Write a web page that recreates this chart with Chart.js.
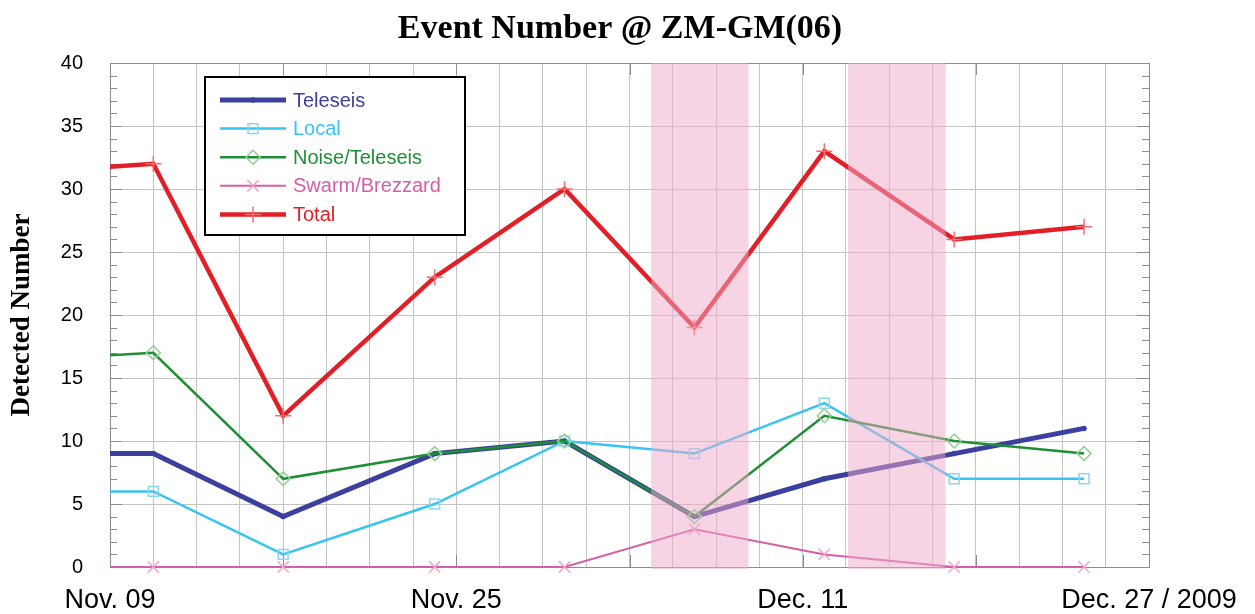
<!DOCTYPE html>
<html>
<head>
<meta charset="utf-8">
<script src="https://cdn.jsdelivr.net/npm/chart.js@4.4.1/dist/chart.umd.min.js"></script>
<style>
  html, body { margin: 0; padding: 0; background: #fff; }
</style>
</head>
<body>
<canvas id="grafico" width="1255" height="614"></canvas>
<script>
// days counted from Nov. 09, 2009 (the first point sits just left of the frame)
const dias = [-4, 2, 8, 15, 21, 27, 33, 39, 45];
const teleseis = [9, 9, 4, 9, 10, 4, 7, 9, 11];
const local = [6, 6, 1, 5, 10, 9, 13, 7, 7];
const noise = [16.4, 17, 7, 9, 10, 4, 12, 10, 9];
const swarm = [0, 0, 0, 0, 0, 3, 1, 0, 0];
const total = [31.3, 32, 12, 23, 30, 19, 33, 26, 27];

const xTickDias = [0, 16, 32, 48];
const xTickLabels = ['Nov. 09', 'Nov. 25', 'Dec. 11', 'Dec. 27 / 2009'];
// shaded periods, in days from Nov. 09
const faixas = [[25, 29.5], [34.1, 38.6]];

function pontos(valores) {
    return valores.map((v, i) => ({ x: dias[i], y: v }));
}

function serie(label, valores, cor, largura, estilo, raio, corPonto, ordem) {
    return {
        label: label,
        data: pontos(valores),
        borderColor: cor,
        borderWidth: largura,
        pointStyle: estilo,
        pointRadius: raio,
        pointBorderColor: corPonto,
        pointBackgroundColor: estilo === 'circle' ? cor : 'rgba(0,0,0,0)',
        pointBorderWidth: 1.5,
        tension: 0,
        order: ordem,
        clip: { left: 0, right: 0, top: 6, bottom: 6 }
    };
}

const decoracao = {
    id: 'decoracao',
    beforeDatasetsDraw(chart) {
        const { ctx, chartArea: a, scales: { x, y } } = chart;
        ctx.save();
        ctx.strokeStyle = '#8c8c8c';
        ctx.lineWidth = 1;
        ctx.strokeRect(a.left + 0.5, a.top + 0.5, a.right - a.left, a.bottom - a.top);
        ctx.beginPath();
        for (let v = 0; v <= 40; v++) {
            const py = Math.round(y.getPixelForValue(v)) + 0.5;
            const len = v % 5 === 0 ? 12 : 7;
            ctx.moveTo(a.left, py); ctx.lineTo(a.left + len, py);
            ctx.moveTo(a.right, py); ctx.lineTo(a.right - len, py);
        }
        for (let d = 0; d <= 48; d += 8) {
            const px = Math.round(x.getPixelForValue(d)) + 0.5;
            ctx.moveTo(px, a.top); ctx.lineTo(px, a.top + 12);
            ctx.moveTo(px, a.bottom); ctx.lineTo(px, a.bottom - 12);
        }
        ctx.stroke();
        ctx.restore();
    },
    afterDatasetsDraw(chart) {
        const { ctx, chartArea: a, scales: { x } } = chart;
        ctx.save();
        ctx.fillStyle = 'rgba(239,169,199,0.5)';
        faixas.forEach(f => {
            const x0 = x.getPixelForValue(f[0]);
            const x1 = x.getPixelForValue(f[1]);
            ctx.fillRect(x0, a.top, x1 - x0, a.bottom - a.top + 2);
        });
        ctx.restore();
    },
    afterDraw(chart) {
        const { ctx, chartArea: a } = chart;
        ctx.save();
        // title
        ctx.fillStyle = '#000';
        ctx.font = 'bold 34px "Liberation Serif", "Times New Roman", serif';
        ctx.textAlign = 'center';
        ctx.textBaseline = 'middle';
        ctx.fillText('Event Number @ ZM-GM(06)', 620, 29);

        // legend
        const bx = a.left + 95, by = a.top + 14, bw = 260, bh = 158;
        ctx.fillStyle = '#fff';
        ctx.fillRect(bx, by, bw, bh);
        ctx.strokeStyle = '#000';
        ctx.lineWidth = 2;
        ctx.strokeRect(bx, by, bw, bh);
        ctx.font = '20px "Liberation Sans", Arial, sans-serif';
        ctx.textAlign = 'left';
        ctx.textBaseline = 'middle';
        const ordemLegenda = ['Teleseis', 'Local', 'Noise/Teleseis', 'Swarm/Brezzard', 'Total'];
        ordemLegenda.forEach((nome, i) => {
            const ds = chart.data.datasets.find(d => d.label === nome);
            const ly = by + 23 + i * 28.6;
            ctx.strokeStyle = ds.borderColor;
            ctx.lineWidth = ds.borderWidth;
            ctx.beginPath();
            ctx.moveTo(bx + 15, ly);
            ctx.lineTo(bx + 81, ly);
            ctx.stroke();
            ctx.strokeStyle = ds.pointBorderColor;
            ctx.fillStyle = ds.pointBackgroundColor;
            ctx.lineWidth = ds.pointBorderWidth;
            Chart.helpers.drawPoint(ctx, { pointStyle: ds.pointStyle, radius: ds.pointRadius, rotation: 0, borderWidth: ds.pointBorderWidth }, bx + 48, ly);
            ctx.fillStyle = ds.borderColor;
            ctx.fillText(nome, bx + 88, ly + 1);
        });
        ctx.restore();
    }
};

const ctx = document.getElementById('grafico').getContext('2d');

new Chart(ctx, {
    type: 'line',
    data: {
        datasets: [
            serie('Teleseis', teleseis, '#3b3f9e', 5, 'circle', 2, '#3b3f9e', 4),
            serie('Local', local, '#38c4f2', 2.5, 'rect', 7, '#8ad6f5', 3),
            serie('Noise/Teleseis', noise, '#1f8f35', 2.5, 'rectRot', 7, '#8fd08f', 2),
            serie('Swarm/Brezzard', swarm, '#d45fa6', 2, 'crossRot', 8, '#f0a3cc', 5),
            serie('Total', total, '#e41e26', 4.5, 'cross', 8, '#f07070', 1)
        ]
    },
    options: {
        responsive: false,
        devicePixelRatio: 1,
        animation: false,
        layout: {
            padding: { left: 0, right: 106, top: 63, bottom: 0 }
        },
        plugins: {
            legend: { display: false },
            title: { display: false },
            tooltip: { enabled: false }
        },
        scales: {
            x: {
                type: 'linear',
                min: 0,
                max: 48,
                afterFit: s => { s.height = 47; },
                ticks: {
                    stepSize: 2,
                    autoSkip: false,
                    maxRotation: 0,
                    padding: 17,
                    color: '#000',
                    font: { family: '"Liberation Sans", Arial, sans-serif', size: 27 },
                    callback: v => {
                        const i = xTickDias.indexOf(v);
                        return i >= 0 ? xTickLabels[i] : '';
                    }
                },
                grid: { color: '#c4c4c4', drawTicks: false },
                border: { color: '#8c8c8c' }
            },
            y: {
                min: 0,
                max: 40,
                afterFit: s => { s.width = 110; },
                ticks: {
                    stepSize: 5,
                    padding: 27,
                    color: '#000',
                    font: { family: '"Liberation Sans", Arial, sans-serif', size: 20 }
                },
                grid: { color: '#c4c4c4', drawTicks: false },
                border: { color: '#8c8c8c' },
                title: {
                    display: true,
                    text: 'Detected Number',
                    color: '#000',
                    font: { family: '"Liberation Serif", "Times New Roman", serif', size: 27, weight: 'bold' },
                    padding: { top: 6, bottom: 0 }
                }
            }
        }
    },
    plugins: [decoracao]
});
</script>
</body>
</html>
